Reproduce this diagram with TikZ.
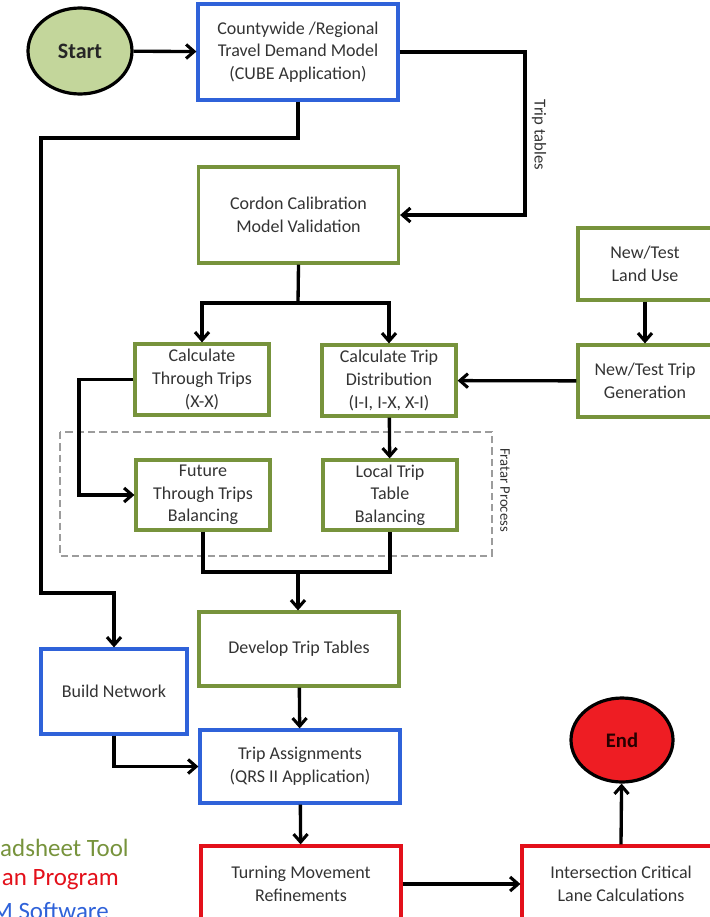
\documentclass[tikz,border=0pt]{standalone}
\usepackage{fontspec}
\setmainfont{Carlito}
\usetikzlibrary{arrows.meta, shapes.geometric}
\definecolor{boxgreen}{HTML}{77933C}
\definecolor{boxblue}{HTML}{2F62D9}
\definecolor{boxred}{HTML}{E3101A}
\definecolor{startgreen}{HTML}{C3D69B}
\definecolor{endred}{HTML}{EE1D23}
\definecolor{txt}{HTML}{333333}
\definecolor{frame}{HTML}{9C9C9C}

\begin{document}
\begin{tikzpicture}[x=0.75pt, y=-0.75pt,
  box/.style={draw, line width=2.4pt, align=center, inner sep=2pt, text=txt, font=\fontsize{13.5}{17}\selectfont},
  greenbox/.style={box, draw=boxgreen},
  bluebox/.style={box, draw=boxblue},
  redbox/.style={box, draw=boxred},
  small/.style={minimum width=100.5pt, minimum height=53.25pt},
  wide/.style={minimum width=150pt, minimum height=55pt},
  term/.style={ellipse, draw=black, line width=2.4pt, inner sep=0pt},
  arr/.style={line width=2.5pt, -{Straight Barb[length=6pt, width=10.5pt, line width=2.3pt]}},
  conn/.style={line width=2.5pt},
  legend/.style={anchor=east, inner sep=0pt, font=\fontsize{18.7}{21}\selectfont}]
  \useasboundingbox (0,0) rectangle (710,917);
  \clip (0,0) rectangle (710,917);

  % terminals
  \node[term, fill=startgreen, text=black!85, minimum width=78pt, minimum height=64.5pt, font=\bfseries\fontsize{16.5}{18}\selectfont] (start) at (80,51) {Start};
  \node[term, fill=endred, text=black!85!red, minimum width=76.5pt, minimum height=63pt, font=\bfseries\fontsize{15.5}{18}\selectfont] (end) at (622,740) {End};

  % boxes
  \node[bluebox, wide, minimum height=72pt] (county) at (298,52) {Countywide /Regional\\Travel Demand Model\\(CUBE Application)};
  \node[greenbox, wide, minimum height=72pt] (cordon) at (298.5,215) {Cordon Calibration\\Model Validation};
  \node[greenbox, small] (calcthru) at (202,379.5) {Calculate\\Through Trips\\(X-X)};
  \node[greenbox, small] (calcdist) at (389,380.5) {Calculate Trip\\Distribution\\(I-I, I-X, X-I)};
  \node[greenbox, small, minimum height=54pt] (landuse) at (645,264) {New/Test\\Land Use};
  \node[greenbox, small, minimum height=54pt] (tripgen) at (645,381) {New/Test Trip\\Generation};
  \node[greenbox, small, minimum height=52.5pt] (future) at (203,495) {Future\\Through Trips\\Balancing};
  \node[greenbox, small, minimum height=52.5pt] (local) at (390,495) {Local Trip\\Table\\Balancing};
  \node[greenbox, wide, minimum height=55.5pt] (develop) at (299,649) {Develop Trip Tables};
  \node[bluebox, minimum width=109.5pt, minimum height=63.75pt] (build) at (114,691.5) {Build Network};
  \node[bluebox, wide, minimum height=54.75pt] (assign) at (300,766.5) {Trip Assignments\\(QRS II Application)};
  \node[redbox, wide, minimum height=57pt] (turning) at (301,884) {Turning Movement\\Refinements};
  \node[redbox, minimum width=148.5pt, minimum height=57pt] (intersect) at (621,884) {Intersection Critical\\Lane Calculations};

  % Fratar process frame
  \draw[frame, dashed, dash pattern=on 5.5pt off 3pt, line width=1.8pt] (60,432) rectangle (492,556);
  \node[rotate=-90, text=txt, font=\fontsize{11}{13}\selectfont] (fratar) at (505,490) {Fratar Process};

  % connectors
  \coordinate (k1) at (41,138);
  \coordinate (k2) at (41,593);
  \coordinate (k3) at (525,215);
  \coordinate (split) at (298,303);
  \coordinate (k4) at (79,495);
  \coordinate (join) at (298,572);

  \draw[arr] (start) -- (county);
  \draw[arr] (county.south) |- (k1) -- (k2) -| (build.north);
  \draw[arr] (county.east) -| (k3) -- (cordon.east);
  \node[rotate=-90, text=txt, font=\fontsize{12.5}{14}\selectfont] (triptab) at (539,135) {Trip tables};
  \draw[conn] (cordon.south) -- (split);
  \draw[arr] (split) -| (calcthru.north);
  \draw[arr] (split) -| (calcdist.north);
  \draw[arr] (landuse) -- (tripgen);
  \draw[arr] (tripgen) -- (calcdist);
  \draw[arr] (calcthru.west) -| (k4) -- (future.west);
  \draw[arr] (calcdist) -- (local);
  \draw[conn] (future.south) |- (join) -| (local.south);
  \draw[arr] (join) -- (join |- develop.north);
  \draw[arr] (develop) -- (assign);
  \draw[arr] (build.south) |- (assign.west);
  \draw[arr] (assign) -- (turning);
  \draw[arr] (turning) -- (intersect);
  \draw[arr] (intersect.north) -- (end);

  % legend (cut off at the left edge)
  \node[legend, text=boxgreen] (lgreen) at (129,848) {adsheet Tool};
  \node[legend, text=boxred] (lred) at (119,880) {an Program};
  \node[legend, text=boxblue] (lblue) at (109,911) {M Software};
\end{tikzpicture}
\end{document}
